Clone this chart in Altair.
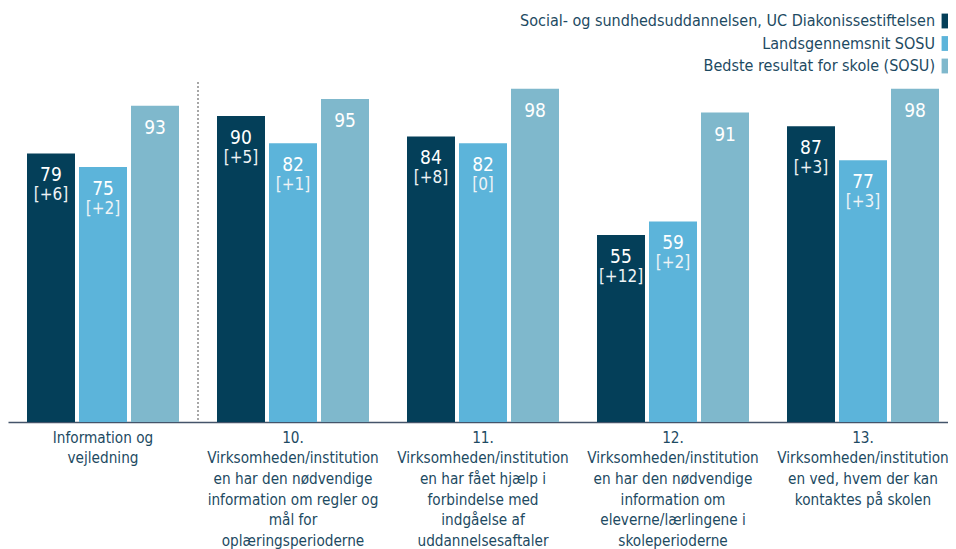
import altair as alt
import pandas as pd

categories = [
    "Information og|vejledning",
    "10.|Virksomheden/institution|en har den nødvendige|information om regler og|mål for|oplæringsperioderne",
    "11.|Virksomheden/institution|en har fået hjælp i|forbindelse med|indgåelse af|uddannelsesaftaler",
    "12.|Virksomheden/institution|en har den nødvendige|information om|eleverne/lærlingene i|skoleperioderne",
    "13.|Virksomheden/institution|en ved, hvem der kan|kontaktes på skolen",
]
series = [
    "Social- og sundhedsuddannelsen, UC Diakonissestiftelsen",
    "Landsgennemsnit SOSU",
    "Bedste resultat for skole (SOSU)",
]
school_values = [79, 90, 84, 55, 87]
school_deltas = ["[+6]", "[+5]", "[+8]", "[+12]", "[+3]"]
national_values = [75, 82, 82, 59, 77]
national_deltas = ["[+2]", "[+1]", "[0]", "[+2]", "[+3]"]
best_values = [93, 95, 98, 91, 98]
colors = ["#043f59", "#5cb4da", "#7fb8cc"]

rows = []
for i, c in enumerate(categories):
    rows.append({"cat": c, "series": series[0], "value": school_values[i], "delta": school_deltas[i]})
    rows.append({"cat": c, "series": series[1], "value": national_values[i], "delta": national_deltas[i]})
    rows.append({"cat": c, "series": series[2], "value": best_values[i], "delta": ""})
df = pd.DataFrame(rows)
leg = pd.DataFrame({"series": series})

FONT = "DejaVu Sans Condensed, DejaVu Sans"
TXT = "#1d4a62"

x_enc = alt.X(
    "cat:N",
    sort=categories,
    scale=alt.Scale(domain=categories, range=[0, 950], paddingInner=0.2, paddingOuter=0.1),
    axis=alt.Axis(
        title=None, labelAngle=0, ticks=False, labelExpr="split(datum.label, '|')",
        labelFont=FONT, labelFontSize=15.2, labelColor=TXT, labelLineHeight=20.7,
        labelPadding=8, labelLimit=0, domainColor="#44546a", domainWidth=1.5,
        grid=False,
    ),
)
xoff = alt.XOffset("series:N", sort=series, scale=alt.Scale(domain=series, paddingInner=0.077, paddingOuter=0))
y_enc = alt.Y("value:Q", scale=alt.Scale(domain=[0, 100], nice=False, zero=True), axis=None)
color_enc = alt.Color("series:N", sort=series, scale=alt.Scale(domain=series, range=colors), legend=None)

base = alt.Chart(df)
bars = base.mark_bar().encode(x=x_enc, xOffset=xoff, y=y_enc, color=color_enc)
nums = base.mark_text(dy=22, baseline="middle", font=FONT, fontSize=19, color="white").encode(
    x=x_enc, xOffset=xoff, y=y_enc, text="value:Q")
deltas = base.mark_text(dy=42, baseline="middle", font=FONT, fontSize=17, color="#eef3f6").encode(
    x=x_enc, xOffset=xoff, y=y_enc, text="delta:N")

sep = alt.Chart(pd.DataFrame({"a": [0]})).mark_rule(
    color="#8a8a8a", strokeDash=[2, 2], strokeWidth=1.5, xOffset=19
).encode(
    x=alt.XDatum(categories[0], bandPosition=1),
    y=alt.YDatum(100, scale=alt.Scale(domain=[0, 100], nice=False), axis=None),
    y2=alt.Y2Datum(0),
)

leg_y = alt.Y("series:N", sort=series, scale=alt.Scale(domain=series, range=[-61, -16], padding=0), axis=None)
leg_text = alt.Chart(leg).mark_text(align="right", baseline="middle", font=FONT, fontSize=16, color=TXT).encode(
    x=alt.value(927), y=leg_y, text="series:N")
leg_sq = alt.Chart(leg).mark_square(size=220, opacity=1).encode(
    x=alt.value(941), y=leg_y, color=color_enc)

chart = alt.layer(bars, nums, deltas, sep, leg_text, leg_sq).resolve_scale(y="independent").properties(
    width=940, height=340,
    autosize=alt.AutoSizeParams(type="none"),
    padding={"left": 0, "top": 74, "right": 0, "bottom": 127},
).configure_view(stroke=None)

chart.save("out.html", embed_options={"renderer": "svg", "actions": False})
